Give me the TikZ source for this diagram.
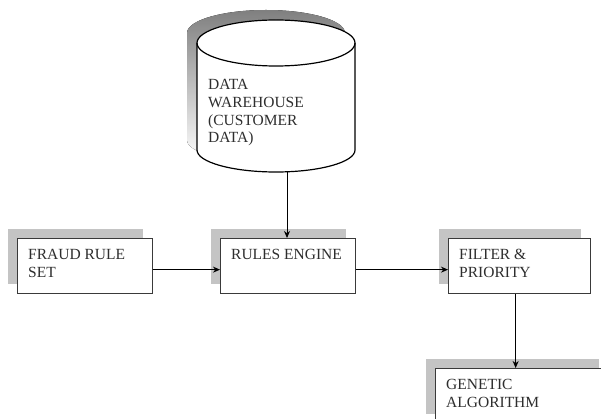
\documentclass[tikz,border=0pt]{standalone}
\usepackage{fontspec}
\setmainfont{Liberation Serif}
\usetikzlibrary{arrows.meta,shadows}
\definecolor{shade}{HTML}{C4C4C4}
\definecolor{ink}{HTML}{2E2E2E}
\definecolor{frame}{HTML}{3A3A3A}
\tikzset{
  txt/.style={anchor=north west, align=left, inner sep=0pt, text=ink,
    font=\fontsize{15.5}{17.8}\selectfont},
  boxtext/.style={txt, xshift=11pt, yshift=-11pt},
  stagebox/.style={draw=frame, line width=1.3pt, fill=white,
    minimum height=55pt, anchor=north west, inner sep=0pt,
    general shadow={fill=shade, shadow xshift=-10pt, shadow yshift=10pt}},
  arr/.style={draw=black, line width=0.9pt, -{Stealth[length=7pt,width=6pt]}},
}
\begin{document}
\begin{tikzpicture}[x=1pt,y=-1pt]
\useasboundingbox (0,0) rectangle (601,419);
\clip (0,0) rectangle (601,419);

% data warehouse cylinder: shadow, body, front rim of the lid
\begin{scope}[shift={(-10,-10)}]
  \fill[shade] (197,43) arc[start angle=180,end angle=360,x radius=79,y radius=23]
    -- (355,150) arc[start angle=0,end angle=180,x radius=79,y radius=22] -- cycle;
\end{scope}
\draw[line width=1.2pt, fill=white] (197,43)
    arc[start angle=180,end angle=360,x radius=79,y radius=23]
    -- (355,150) arc[start angle=0,end angle=180,x radius=79,y radius=22] -- cycle;
\draw[line width=1.2pt] (197,43) arc[start angle=180,end angle=0,x radius=79,y radius=23];
\node[txt] (dw) at (208,79) {DATA\\WAREHOUSE\\(CUSTOMER\\DATA)};
\coordinate (dwbase) at (287,171.8);

% processing stages
\node[stagebox, minimum width=135pt,
  label={[boxtext]north west:FRAUD RULE\\SET}] (fraud) at (17,238) {};
\node[stagebox, minimum width=135pt,
  label={[boxtext]north west:RULES ENGINE}] (rules) at (220,238) {};
\node[stagebox, minimum width=142pt,
  label={[boxtext]north west:FILTER \&\\PRIORITY}] (filter) at (448,238) {};
\node[stagebox, minimum width=173pt,
  label={[boxtext]north west:GENETIC\\ALGORITHM}] (genetic) at (435,368) {};

% connectors
\draw[arr] (dwbase) -- (dwbase |- rules.north);
\draw[arr] ([yshift=-3.5pt]fraud.east) -- ([yshift=-3.5pt]rules.west);
\draw[arr] ([yshift=-3.5pt]rules.east) -- ([yshift=-3.5pt]filter.west);
\draw[arr] ([xshift=-4pt]filter.south) -- ([xshift=-4pt]filter.south |- genetic.north);
\end{tikzpicture}
\end{document}
